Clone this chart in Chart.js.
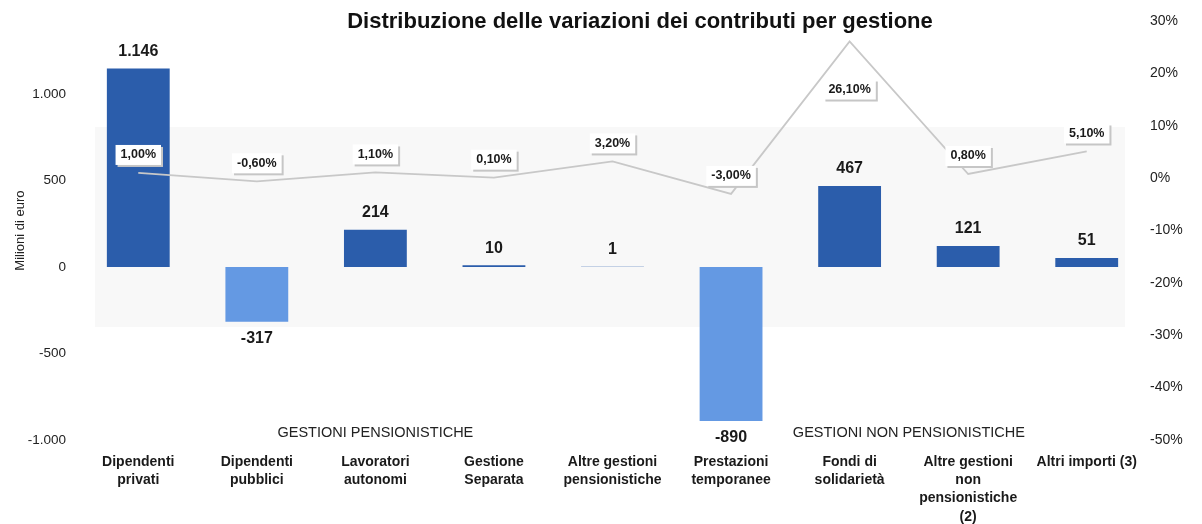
<!DOCTYPE html>
<html lang="it">
<head>
    <meta charset="UTF-8">
    <title>Distribuzione delle variazioni dei contributi per gestione</title>
    <script src="https://cdn.jsdelivr.net/npm/chart.js"></script>
    <style>
        body { margin: 0; background: #fff; }
        #box { width: 1202px; height: 524px; }
    </style>
</head>
<body>
<div id="box"><canvas id="grafico"></canvas></div>
<script>
    // dati
    const categorie = [
        ['Dipendenti', 'privati'],
        ['Dipendenti', 'pubblici'],
        ['Lavoratori', 'autonomi'],
        ['Gestione', 'Separata'],
        ['Altre gestioni', 'pensionistiche'],
        ['Prestazioni', 'temporanee'],
        ['Fondi di', 'solidarietà'],
        ['Altre gestioni', 'non', 'pensionistiche', '(2)'],
        ['Altri importi (3)']
    ];
    const variazioni = [1146, -317, 214, 10, 1, -890, 467, 121, 51];       // milioni di euro
    const variazioniPct = [1.0, -0.6, 1.1, 0.1, 3.2, -3.0, 26.1, 0.8, 5.1]; // %
    const gruppi = ['GESTIONI PENSIONISTICHE', 'GESTIONI NON PENSIONISTICHE'];
    const gruppiIndici = [[0, 4], [5, 8]];
    const tickEuro = [-1000, -500, 0, 500, 1000];
    const tickPct = [-50, -40, -30, -20, -10, 0, 10, 20, 30];

    const titolo = 'Distribuzione delle variazioni dei contributi per gestione';
    const FONT = "'Liberation Sans', Arial, sans-serif";
    const BLU = '#2b5dab';
    const AZZURRO = '#6499e3';

    function migliaia(v) {
        return String(v).replace(/\B(?=(\d{3})+(?!\d))/g, '.');
    }
    function percento(v) {
        return v.toFixed(2).replace('.', ',') + '%';
    }

    const etichette = {
        id: 'etichette',
        beforeDatasetsDraw(chart) {
            // fascia grigia chiara di sfondo
            const ctx = chart.ctx;
            ctx.save();
            ctx.fillStyle = '#f8f8f8';
            ctx.fillRect(95, 127, 1030, 200);
            ctx.restore();
        },
        afterDatasetsDraw(chart) {
            const ctx = chart.ctx;
            const area = chart.chartArea;
            const barre = chart.getDatasetMeta(0).data;
            const punti = chart.getDatasetMeta(1).data;
            ctx.save();

            // valori delle barre
            ctx.font = 'bold 16px ' + FONT;
            ctx.fillStyle = '#1a1a1a';
            ctx.textAlign = 'center';
            ctx.textBaseline = 'middle';
            barre.forEach(function(b, i) {
                const v = variazioni[i];
                const y = v >= 0 ? b.y - 17 : b.y + 17;
                ctx.fillText(migliaia(v), b.x, y);
            });

            // etichette percentuali con riquadro
            ctx.font = 'bold 12.5px ' + FONT;
            punti.forEach(function(p, i) {
                const testo = percento(variazioniPct[i]);
                const w = ctx.measureText(testo).width + 10;
                const h = 20;
                let cy = p.y - 18;
                if (cy - h / 2 < 45) cy = p.y + 48;
                ctx.fillStyle = '#c6c6c6';
                ctx.fillRect(p.x - w / 2 + 2, cy - h / 2 + 2, w, h);
                ctx.fillStyle = '#ffffff';
                ctx.fillRect(p.x - w / 2, cy - h / 2, w, h);
                ctx.fillStyle = '#1a1a1a';
                ctx.fillText(testo, p.x, cy);
            });

            // nomi dei gruppi
            const x = chart.scales.x;
            ctx.font = '14.5px ' + FONT;
            ctx.fillStyle = '#222';
            gruppi.forEach(function(g, i) {
                const cx = (x.getPixelForValue(gruppiIndici[i][0]) + x.getPixelForValue(gruppiIndici[i][1])) / 2;
                ctx.fillText(g, cx, area.bottom - 7);
            });

            // titolo
            ctx.font = 'bold 22px ' + FONT;
            ctx.fillStyle = '#111';
            ctx.fillText(titolo, 640, 22);
            ctx.restore();
        }
    };

    const ctx = document.getElementById('grafico').getContext('2d');
    new Chart(ctx, {
        data: {
            labels: categorie,
            datasets: [{
                type: 'bar',
                data: variazioni,
                yAxisID: 'y',
                backgroundColor: variazioni.map(v => v < 0 ? AZZURRO : BLU),
                barPercentage: 0.53,
                categoryPercentage: 1,
                order: 2
            }, {
                type: 'line',
                data: variazioniPct,
                yAxisID: 'y1',
                borderColor: '#c8c8c8',
                borderWidth: 1.8,
                pointRadius: 0,
                tension: 0,
                order: 1
            }]
        },
        options: {
            responsive: true,
            maintainAspectRatio: false,
            animation: false,
            layout: { padding: { top: 18 } },
            plugins: {
                legend: { display: false },
                tooltip: { enabled: false },
                title: { display: false }
            },
            scales: {
                x: {
                    grid: { display: false, drawTicks: false },
                    border: { display: false },
                    ticks: {
                        padding: 13,
                        maxRotation: 0,
                        autoSkip: false,
                        color: '#1a1a1a',
                        font: { family: FONT, size: 14, weight: 'bold', lineHeight: 1.3 }
                    },
                    afterFit(scale) { scale.height = 84; }
                },
                y: {
                    position: 'left',
                    min: -1000,
                    max: 1420,
                    grid: { display: false, drawTicks: false },
                    border: { display: false },
                    afterBuildTicks(scale) { scale.ticks = tickEuro.map(v => ({ value: v })); },
                    ticks: {
                        padding: 13,
                        color: '#222',
                        font: { family: FONT, size: 13.5 },
                        callback: v => migliaia(v)
                    },
                    title: {
                        display: true,
                        text: 'Milioni di euro',
                        color: '#222',
                        font: { family: FONT, size: 13 },
                        padding: { top: 13, bottom: 0 }
                    },
                    afterFit(scale) { scale.width = 79; }
                },
                y1: {
                    position: 'right',
                    min: -50,
                    max: 30,
                    grid: { display: false, drawTicks: false },
                    border: { display: false },
                    afterBuildTicks(scale) { scale.ticks = tickPct.map(v => ({ value: v })); },
                    ticks: {
                        padding: 4,
                        color: '#222',
                        font: { family: FONT, size: 14 },
                        callback: v => v + '%'
                    },
                    afterFit(scale) { scale.width = 56; }
                }
            }
        },
        plugins: [etichette]
    });
</script>
</body>
</html>
